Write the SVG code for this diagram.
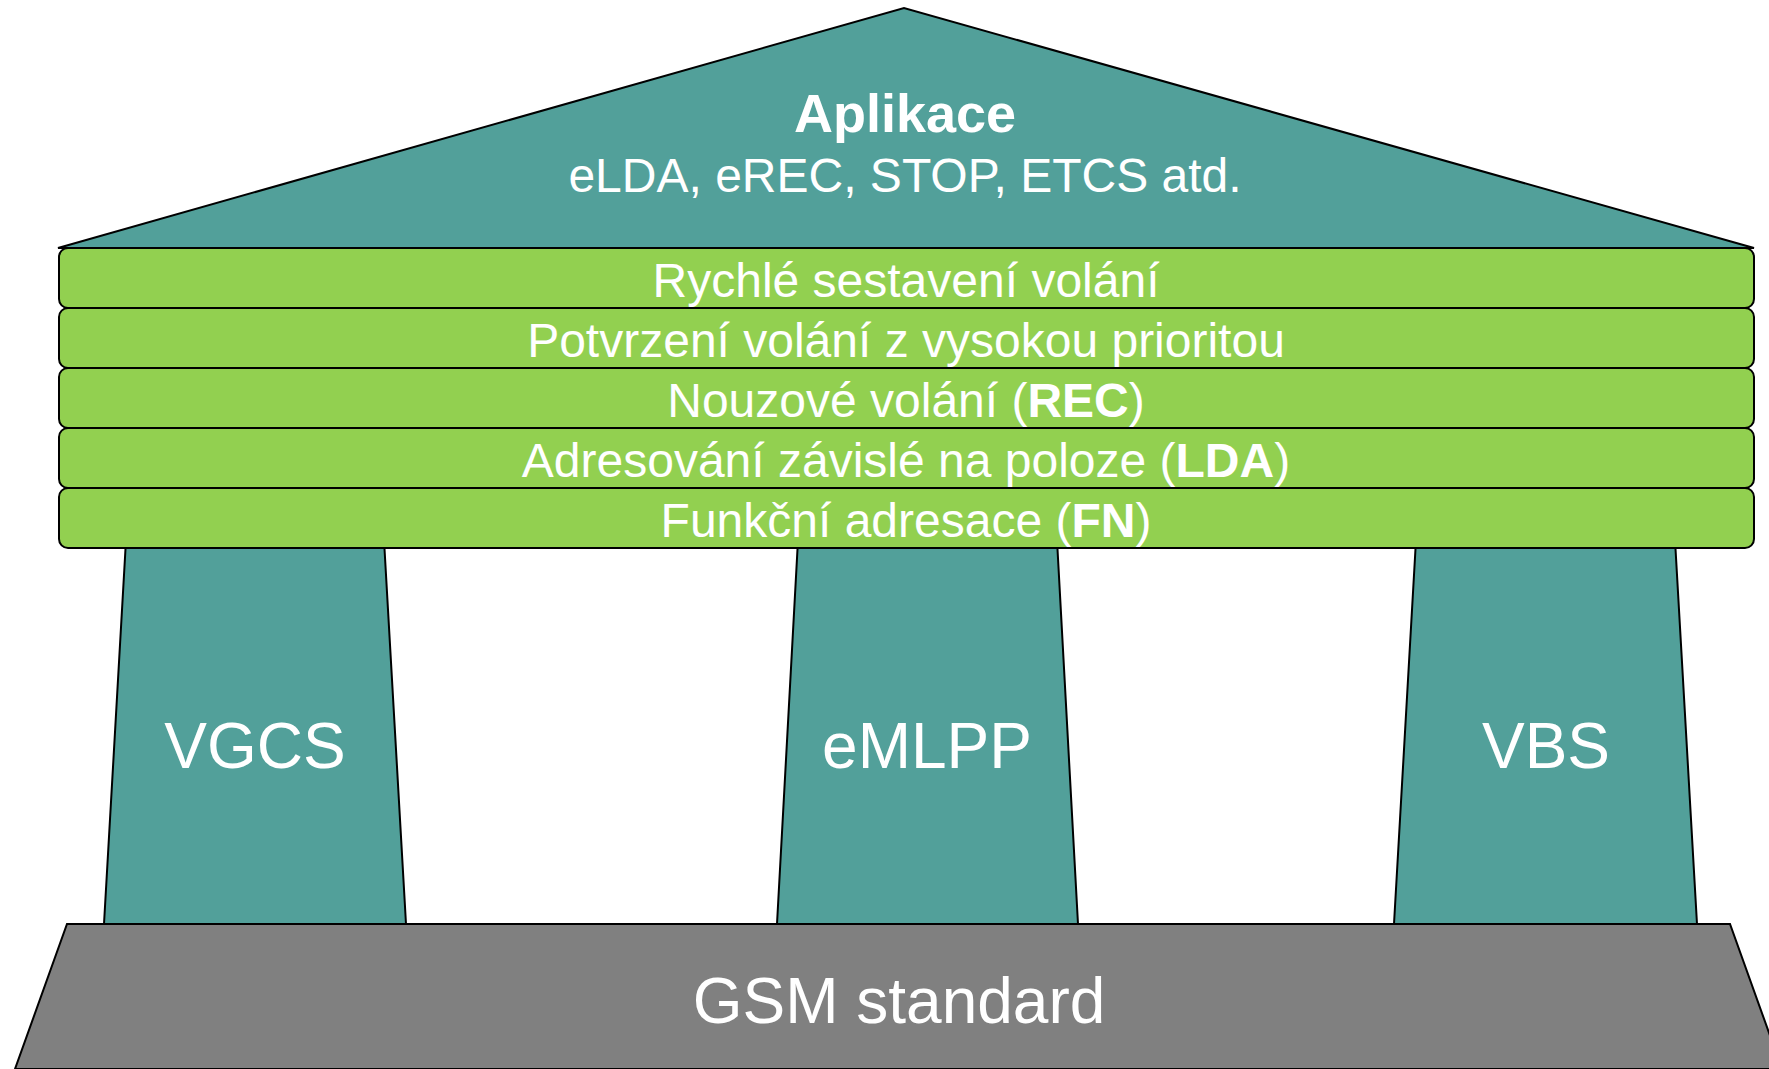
<svg xmlns="http://www.w3.org/2000/svg" width="1769" height="1069" viewBox="0 0 1769 1069">
<style>
.teal{fill:#52A09A;stroke:#000;stroke-width:2;stroke-linejoin:miter}
.bar{fill:#92D050;stroke:#000;stroke-width:2}
.base{fill:#808080;stroke:#000;stroke-width:2}
text{font-family:"Liberation Sans",Arial,sans-serif;fill:#fff;text-anchor:middle}
.t48{font-size:48px}
.t64{font-size:64px}
</style>
<rect width="1769" height="1069" fill="#fff"/>
<g id="roof">
<polygon class="teal" points="58,248 904,8 1754,248"/>
<text x="905" y="132" font-size="54" font-weight="bold">Aplikace</text>
<text class="t48" x="905" y="192">eLDA, eREC, STOP, ETCS atd.</text>
</g>
<g id="base">
<polygon class="base" points="67,924 1730,924 1782,1069 15,1069"/>
<text class="t64" x="899" y="1023">GSM standard</text>
</g>
<g id="pillar-vgcs">
<polygon class="teal" points="126,540 384,540 406,924 104,924"/>
<text class="t64" x="255" y="768">VGCS</text>
</g>
<g id="pillar-emlpp">
<polygon class="teal" points="798,540 1057,540 1078,924 777,924"/>
<text class="t64" x="927" y="768">eMLPP</text>
</g>
<g id="pillar-vbs">
<polygon class="teal" points="1416,540 1675,540 1697,924 1394,924"/>
<text class="t64" x="1546" y="768">VBS</text>
</g>
<g id="bar1">
<rect class="bar" x="59" y="248" width="1695" height="60" rx="9"/>
<text class="t48" x="906" y="297">Rychlé sestavení volání</text>
</g>
<g id="bar2">
<rect class="bar" x="59" y="308" width="1695" height="60" rx="9"/>
<text class="t48" x="906" y="357">Potvrzení volání z vysokou prioritou</text>
</g>
<g id="bar3">
<rect class="bar" x="59" y="368" width="1695" height="60" rx="9"/>
<text class="t48" x="906" y="417">Nouzové volání (<tspan font-weight="bold">REC</tspan>)</text>
</g>
<g id="bar4">
<rect class="bar" x="59" y="428" width="1695" height="60" rx="9"/>
<text class="t48" x="906" y="477">Adresování závislé na poloze (<tspan font-weight="bold">LDA</tspan>)</text>
</g>
<g id="bar5">
<rect class="bar" x="59" y="488" width="1695" height="60" rx="9"/>
<text class="t48" x="906" y="537">Funkční adresace (<tspan font-weight="bold">FN</tspan>)</text>
</g>
<g id="connectors"></g>
</svg>
